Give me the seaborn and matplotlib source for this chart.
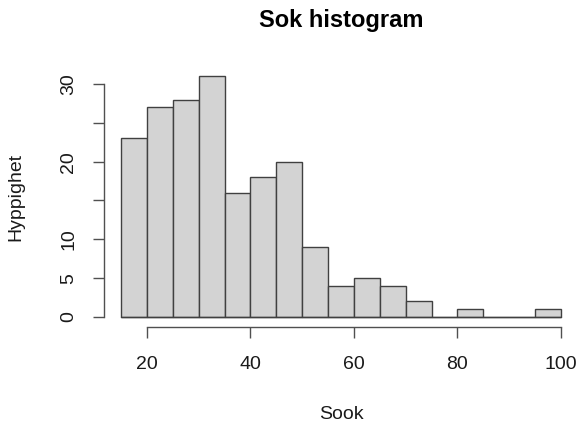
import matplotlib
matplotlib.use("Agg")
import matplotlib.pyplot as plt
import seaborn as sns
import numpy as np

bin_edges = [15, 20, 25, 30, 35, 40, 45, 50, 55, 60, 65, 70, 75, 80, 85, 90, 95, 100]
counts = [23, 27, 28, 31, 16, 18, 20, 9, 4, 5, 4, 2, 0, 1, 0, 0, 1]
x_ticks = [20, 40, 60, 80, 100]
y_ticks = [0, 5, 10, 15, 20, 25, 30]
y_tick_labels = ["0", "5", "10", "", "20", "", "30"]

sns.set_style("white")
plt.rcParams['font.family'] = ['Liberation Sans', 'DejaVu Sans']

W, H = 579, 428
fig = plt.figure(figsize=(W / 100, H / 100), dpi=100)
left, right, top, bottom = 103.5, 578.6, 66.6, 326.6
ax = fig.add_axes([left / W, 1 - bottom / H, (right - left) / W, (bottom - top) / H])

centers = [(a + b) / 2 for a, b in zip(bin_edges[:-1], bin_edges[1:])]
sns.histplot(x=centers, weights=counts, bins=bin_edges, ax=ax,
             color="#D3D3D3", edgecolor="#404040", linewidth=1.0, alpha=1.0)
ax.plot([bin_edges[0], bin_edges[-1]], [0, 0], color="#404040", lw=1.0)

xr = bin_edges[-1] - bin_edges[0]
ax.set_xlim(bin_edges[0] - 0.04 * xr, bin_edges[-1] + 0.04 * xr)
yr = max(counts)
ax.set_ylim(-0.04 * yr, yr * 1.04)

for s in ["top", "right"]:
    ax.spines[s].set_visible(False)
ax.spines["left"].set_bounds(0, 30)
ax.spines["bottom"].set_bounds(20, 100)
for s in ["left", "bottom"]:
    ax.spines[s].set_color("#505050")
    ax.spines[s].set_linewidth(1.0)

ax.set_xticks(x_ticks)
ax.set_xticklabels([str(v) for v in x_ticks])
ax.set_yticks(y_ticks)
ax.set_yticklabels(y_tick_labels, rotation=90, va="center")
ax.tick_params(axis="both", direction="out", length=8, width=1.0, color="#505050",
               labelsize=14, labelcolor="#1a1a1a", bottom=True, left=True)
ax.tick_params(axis="x", pad=13)
ax.tick_params(axis="y", pad=11)

ax.set_xlabel("Sook", fontsize=14, color="#1a1a1a", labelpad=24)
ax.set_ylabel("Hyppighet", fontsize=14, color="#1a1a1a", labelpad=26)
fig.text((left + right) / 2 / W, 1 - 27 / H, "Sok histogram", ha="center", va="baseline",
         fontsize=17, fontweight="bold", color="black")

fig.savefig("out.png", dpi=100)
